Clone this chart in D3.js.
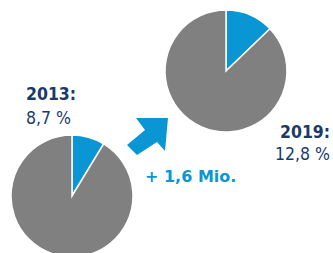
<!DOCTYPE html>
<html><head><meta charset="utf-8">
<script src="https://cdn.jsdelivr.net/npm/d3@7"></script>
<style>html,body{margin:0;padding:0;background:#fff;}svg{display:block;}</style>
</head><body>
<svg id="c" width="333" height="253"></svg>
<script>
const years = ["2013", "2019"];
const shares = [8.7, 12.8];
const shareLabels = ["8,7 %", "12,8 %"];
const changeLabel = "+ 1,6 Mio.";

const blue = "#0a96d4", grey = "#808080", navy = "#1b3a6a";
const svg = d3.select("#c");
const R = 61;
const centers = [[72, 196], [226, 71]];

const pie = d3.pie().sort(null).value(d => d);
const arc = d3.arc().innerRadius(0).outerRadius(R);

shares.forEach((s, i) => {
  const g = svg.append("g").attr("transform", `translate(${centers[i][0]},${centers[i][1]})`);
  g.selectAll("path").data(pie([s, 100 - s])).join("path")
    .attr("d", arc)
    .attr("fill", (d, j) => j === 0 ? blue : grey)
    .attr("stroke", "#fff").attr("stroke-width", 1.5).attr("stroke-linejoin", "miter");
});

const cond = "'DejaVu Sans Condensed', 'DejaVu Sans', sans-serif";
const labelPos = [[26, 100, 124], [280, 138, 160]];
years.forEach((y, i) => {
  svg.append("text").attr("x", labelPos[i][0]).attr("y", labelPos[i][1])
    .attr("font-family", cond).attr("font-weight", "bold").attr("font-size", 17.5)
    .attr("fill", navy).text(y + ":");
  svg.append("text").attr("x", labelPos[i][0] - (i ? 5 : 0)).attr("y", labelPos[i][2])
    .attr("font-family", cond).attr("font-size", 17.5)
    .attr("fill", navy).text(shareLabels[i]);
});

svg.append("text").attr("x", 145).attr("y", 182)
  .attr("font-family", "'DejaVu Sans', sans-serif").attr("font-weight", "bold").attr("font-size", 16)
  .attr("fill", blue).text(changeLabel);

// arrow
const arrow = [[168,118],[165,151],[157,142],[137,155],[127,145],[145,130],[136,118]];
svg.append("path").attr("d", d3.line()(arrow) + "Z").attr("fill", blue);
</script>
</body></html>
